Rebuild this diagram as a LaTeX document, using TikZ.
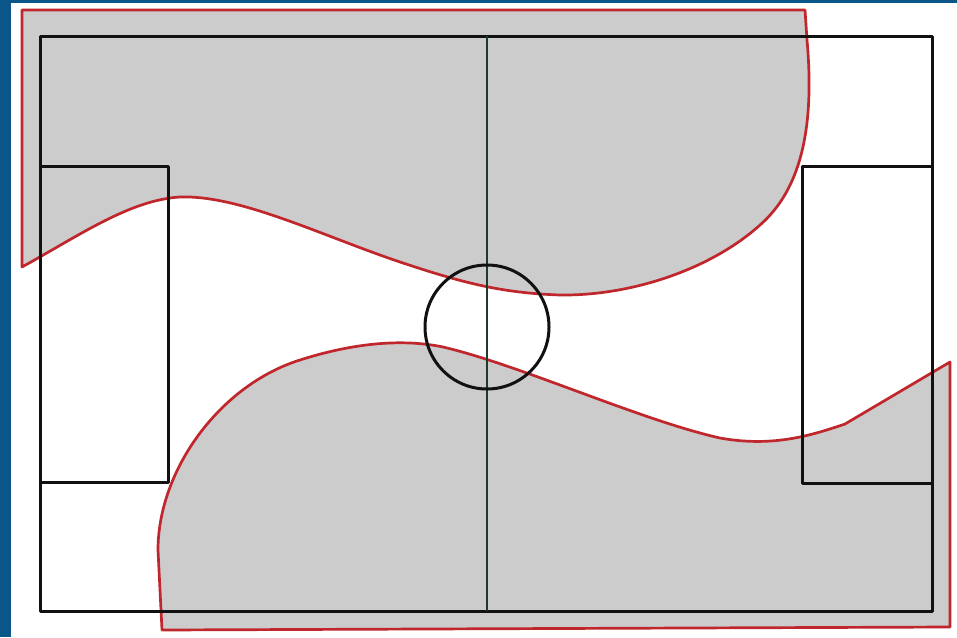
\documentclass[tikz,border=0pt]{standalone}
\usepackage{xcolor}
\definecolor{cFrame}{HTML}{0B5688}
\definecolor{cZone}{HTML}{CCCCCC}
\definecolor{cEdge}{HTML}{C0272D}
\definecolor{cPitch}{HTML}{111111}
\definecolor{cHalf}{HTML}{1E3A2E}
\usepackage{tikz}
\tikzset{
  zone-fill/.style={fill=cZone,draw=cEdge,line width=2.7pt,line join=round},
  pitch-line/.style={draw=cPitch,line width=3pt,line join=round},
  half-line/.style={draw=cHalf,line width=2.4pt},
  frame-band/.style={fill=cFrame,draw=none},
}

\begin{document}
\begin{tikzpicture}[x=1pt,y=-1pt]
  \useasboundingbox[fill=white] (0,0) rectangle (957,637);
  \fill[frame-band] (0,0) rectangle (11,637);
  \fill[frame-band] (0,0) rectangle (957,2.5);
  % zona superior
  \path[zone-fill] (22,10) -- (805,10) -- (807,40)
    .. controls (815,130) and (800,190) .. (760,225)
    .. controls (710,270) and (630,296) .. (560,295)
    .. controls (500,293) and (460,282) .. (400,262)
    .. controls (320,235) and (240,195) .. (180,197)
    .. controls (130,200) and (80,235) .. (22,267) -- cycle;
  % zona inferior
  \path[zone-fill] (162,630) -- (158,550)
    .. controls (158,470) and (220,385) .. (300,360)
    .. controls (350,344) and (400,338) .. (443,347)
    .. controls (520,365) and (640,420) .. (720,438)
    .. controls (775,448) and (815,434) .. (845,424)
    -- (950,362) -- (950,627) -- cycle;
  % campo
  \coordinate (tl) at (40,36);
  \coordinate (br) at (932,611);
  \draw[pitch-line] (tl) rectangle (br);
  \draw[pitch-line] (40,166) -- (168,166) -- (168,482) -- (40,482);
  \draw[pitch-line] (932,166) -- (802,166) -- (802,483) -- (932,483);
  \coordinate (mid-top) at (487,36);
  \coordinate (mid-bot) at (487,611);
  \draw[half-line] (mid-top) -- (mid-bot);
  \node[draw=cPitch,line width=3pt,circle,minimum size=124pt,inner sep=0pt] (centre) at (487,327) {};
\end{tikzpicture}
\end{document}
